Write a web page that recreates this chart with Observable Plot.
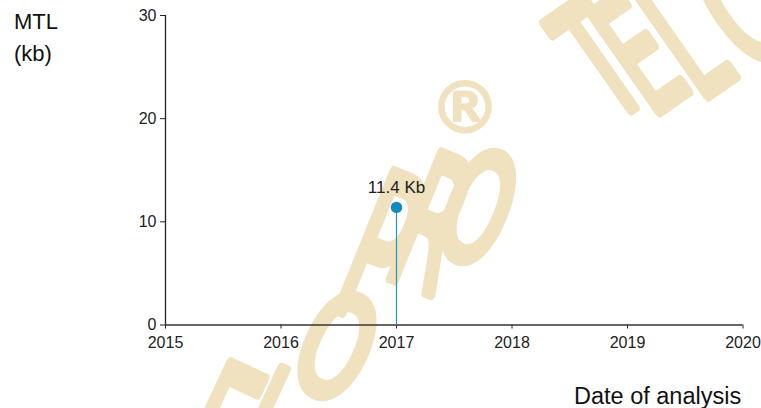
<!DOCTYPE html>
<html><head><meta charset="utf-8">
<script src="https://cdn.jsdelivr.net/npm/d3@7"></script>
<script src="https://cdn.jsdelivr.net/npm/@observablehq/plot@0.6"></script>
<style>
body{margin:0;background:#fff;font-family:"Liberation Sans",Arial,sans-serif}
#wrap{position:relative;width:761px;height:408px;overflow:hidden}
#wrap svg{position:absolute;left:0;top:0}
.lab{position:absolute;color:#111;white-space:nowrap}
</style></head><body>
<div id="wrap"></div>
<script>
// ---- data ----
const years = [2017];
const mtlValues = [11.4];
const pointLabels = ["11.4 Kb"];
const xTicks = [2015, 2016, 2017, 2018, 2019, 2020];
const yTicks = [0, 10, 20, 30];
const yTitle = ["MTL", "(kb)"];
const xTitle = "Date of analysis";

const data = years.map((y, i) => ({year: y, mtl: mtlValues[i], label: pointLabels[i]}));

const chart = Plot.plot({
  width: 761, height: 408,
  marginLeft: 165, marginRight: 18.5, marginTop: 15, marginBottom: 83.5,
  style: {fontFamily: "Liberation Sans, Arial, sans-serif", fontSize: "16px", color: "#222", background: "transparent", overflow: "visible"},
  x: {domain: [2015, 2020], ticks: xTicks, tickFormat: "d", tickSize: 4, tickPadding: 8, label: null},
  y: {domain: [0, 30], ticks: yTicks, tickSize: 5, tickPadding: 4, label: null},
  marks: [
    Plot.ruleY([0], {stroke: "#333", strokeWidth: 1.3}),
    Plot.ruleX([2015], {stroke: "#222", strokeWidth: 1.3}),
    Plot.ruleX(data, {x: "year", y1: 0, y2: "mtl", stroke: "#2a93b5", strokeWidth: 1.2}),
    Plot.dot(data, {x: "year", y: "mtl", r: 5.7, fill: "#138bbf"}),
    Plot.text(data, {x: "year", y: "mtl", text: "label", lineAnchor: "bottom", dy: -14, fontSize: 17, fill: "#222"})
  ]
});

// watermark (decorative "TELOPRO ®" logo), drawn behind the chart
const wm = d3.create("svg").attr("width", 761).attr("height", 408);
const letters = [
  ["E", 214, 440, 25, 200, 0.45],
  ["L", 262, 444, 25, 200, 0.45],
  ["O", 336, 348, 25, 140, 0.62],
  ["P", 380, 250, 22, 205, 0.45],
  ["R", 432, 226, 22, 185, 0.45],
  ["O", 477, 210, 22, 150, 0.55],
  ["®", 465, 108, 0, 70, 1],
  ["T", 600, 62, -35, 165, 0.5],
  ["E", 640, 56, -35, 165, 0.5],
  ["L", 686, 42, -35, 165, 0.5],
  ["O", 746, 6, -35, 165, 0.55]
];
wm.selectAll("text").data(letters).join("text")
  .attr("transform", d => `translate(${d[1]},${d[2]}) rotate(${d[3]}) scale(${d[5]},1)`)
  .attr("text-anchor", "middle")
  .attr("dominant-baseline", "central")
  .attr("font-family", "DejaVu Sans")
  .attr("font-size", d => d[4])
  .attr("fill", "#f0e1bf")
  .attr("stroke", "#f0e1bf")
  .attr("stroke-width", d => d[0] === "®" ? 3 : 11)
  .attr("stroke-linejoin", "round")
  .attr("stroke-linecap", "round")
  .text(d => d[0]);

const wrap = document.getElementById("wrap");
wrap.appendChild(wm.node());
wrap.appendChild(chart);

const t1 = document.createElement("div");
t1.className = "lab";
t1.style.cssText = "left:14px;top:6px;font-size:22px;line-height:32px";
t1.innerHTML = yTitle.join("<br>");
wrap.appendChild(t1);

const t2 = document.createElement("div");
t2.className = "lab";
t2.style.cssText = "left:574px;top:383px;font-size:23.5px;line-height:27px";
t2.textContent = xTitle;
wrap.appendChild(t2);
</script>
</body></html>
